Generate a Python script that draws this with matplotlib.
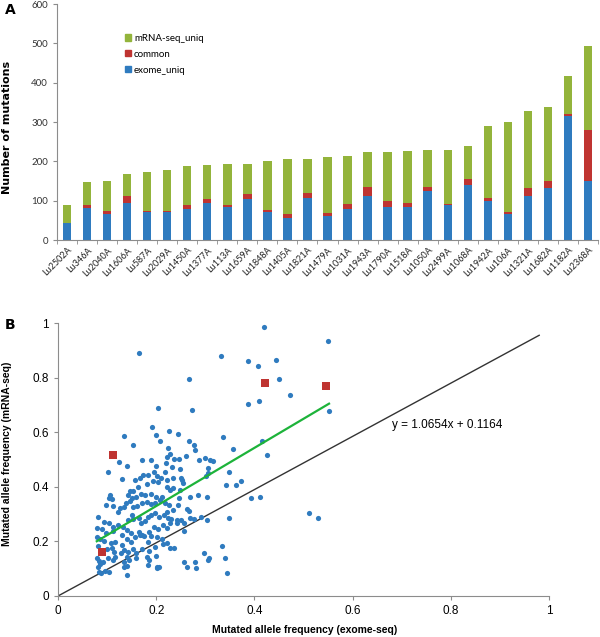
import matplotlib.pyplot as plt
import numpy as np
from matplotlib.patches import Patch

# panel A: stacked mutation counts per sample
samples = ["Lu2502A", "Lu346A", "Lu2040A", "Lu1606A", "Lu587A", "Lu2029A", "Lu1450A",
           "Lu1377A", "Lu113A", "Lu1659A", "Lu1848A", "Lu1405A", "Lu1821A", "Lu1479A",
           "Lu1031A", "Lu1943A", "Lu1790A", "Lu1518A", "Lu1050A", "Lu2499A", "Lu1068A",
           "Lu1942A", "Lu106A", "Lu1321A", "Lu1682A", "Lu1182A", "Lu2368A"]
exome_uniq = [43, 82, 67, 95, 71, 70, 78, 95, 84, 103, 70, 56, 107, 62, 78, 111, 84, 83,
              124, 89, 139, 99, 66, 112, 132, 315, 151]
common = [0, 8, 6, 16, 4, 5, 10, 8, 4, 13, 7, 11, 12, 6, 14, 23, 14, 12, 10, 3, 15, 8, 6,
          21, 19, 6, 128]
mrna_uniq = [47, 57, 78, 57, 97, 104, 99, 88, 105, 77, 123, 138, 88, 144, 122, 89, 126,
             131, 94, 138, 85, 183, 227, 194, 186, 95, 215]

# panel B: allele frequencies (exome-seq x, mRNA-seq y)
freq_exome = [
    0.164, 0.332, 0.420, 0.386, 0.408, 0.445, 0.450, 0.267, 0.473, 0.386, 0.410, 0.204,
    0.272, 0.191, 0.135, 0.199, 0.227, 0.244, 0.337, 0.153, 0.208, 0.267, 0.277, 0.279,
    0.225, 0.229, 0.260, 0.357, 0.415, 0.425, 0.552, 0.511, 0.530, 0.549,
    0.172, 0.190, 0.221, 0.236, 0.246, 0.287, 0.299, 0.310, 0.316,
    0.125, 0.101, 0.140, 0.200, 0.219, 0.233, 0.217, 0.248, 0.196, 0.183, 0.174, 0.167,
    0.202, 0.209, 0.234, 0.251, 0.306, 0.305, 0.348, 0.130, 0.157, 0.181, 0.193, 0.204,
    0.221, 0.146, 0.152, 0.143, 0.150, 0.159, 0.163, 0.170, 0.177, 0.190, 0.200, 0.212,
    0.223, 0.228, 0.234, 0.249, 0.252, 0.254, 0.247, 0.269, 0.286, 0.303, 0.301, 0.342,
    0.363, 0.373, 0.394, 0.412, 0.106, 0.104, 0.109, 0.098, 0.113, 0.126, 0.134, 0.139,
    0.147, 0.153, 0.160, 0.172, 0.181, 0.189, 0.198, 0.208, 0.218, 0.227, 0.235, 0.245,
    0.262, 0.266, 0.269, 0.276, 0.292, 0.304, 0.348, 0.123, 0.081, 0.094, 0.103, 0.111,
    0.122, 0.133, 0.142, 0.151, 0.153, 0.164, 0.170, 0.177, 0.184, 0.190, 0.198, 0.205,
    0.215, 0.223, 0.224, 0.231, 0.242, 0.251, 0.257, 0.079, 0.090, 0.098, 0.113, 0.130,
    0.140, 0.148, 0.164, 0.172, 0.185, 0.196, 0.204, 0.213, 0.223, 0.229, 0.242, 0.257,
    0.080, 0.086, 0.094, 0.107, 0.117, 0.131, 0.140, 0.149, 0.157, 0.167, 0.175, 0.184,
    0.189, 0.201, 0.212, 0.223, 0.081, 0.099, 0.109, 0.115, 0.128, 0.134, 0.143, 0.153,
    0.158, 0.172, 0.185, 0.198, 0.213, 0.228, 0.236, 0.080, 0.084, 0.086, 0.091, 0.102,
    0.111, 0.117, 0.134, 0.140, 0.140, 0.145, 0.158, 0.181, 0.185, 0.200, 0.202, 0.257,
    0.262, 0.281, 0.279, 0.298, 0.306, 0.308, 0.333, 0.340, 0.344, 0.081, 0.083, 0.088,
    0.096, 0.103, 0.140, 0.135, 0.183, 0.201, 0.206]
freq_mrna = [
    0.889, 0.880, 0.985, 0.860, 0.842, 0.863, 0.795, 0.795, 0.737, 0.702, 0.713, 0.690,
    0.680, 0.620, 0.587, 0.591, 0.604, 0.592, 0.584, 0.554, 0.567, 0.567, 0.553, 0.536,
    0.542, 0.521, 0.514, 0.540, 0.568, 0.518, 0.679, 0.305, 0.287, 0.933,
    0.498, 0.498, 0.508, 0.502, 0.502, 0.498, 0.507, 0.498, 0.496,
    0.492, 0.453, 0.476, 0.478, 0.488, 0.471, 0.456, 0.466, 0.455, 0.445, 0.443, 0.431,
    0.441, 0.434, 0.434, 0.433, 0.470, 0.449, 0.456, 0.427, 0.425, 0.411, 0.421, 0.416,
    0.425, 0.383, 0.383, 0.370, 0.358, 0.361, 0.400, 0.372, 0.369, 0.373, 0.364, 0.361,
    0.398, 0.389, 0.397, 0.389, 0.425, 0.414, 0.358, 0.361, 0.371, 0.364, 0.439, 0.406,
    0.408, 0.421, 0.358, 0.361, 0.371, 0.360, 0.354, 0.333, 0.329, 0.321, 0.327, 0.342,
    0.347, 0.327, 0.331, 0.339, 0.343, 0.337, 0.339, 0.351, 0.342, 0.333, 0.315, 0.333,
    0.317, 0.310, 0.284, 0.281, 0.288, 0.278, 0.284, 0.306, 0.288, 0.272, 0.266, 0.254,
    0.260, 0.254, 0.278, 0.298, 0.281, 0.284, 0.266, 0.275, 0.290, 0.298, 0.305, 0.288,
    0.296, 0.309, 0.287, 0.282, 0.278, 0.278, 0.266, 0.248, 0.246, 0.229, 0.239, 0.223,
    0.242, 0.232, 0.235, 0.222, 0.234, 0.254, 0.246, 0.259, 0.249, 0.266, 0.266, 0.239,
    0.217, 0.207, 0.202, 0.194, 0.199, 0.188, 0.207, 0.199, 0.215, 0.223, 0.220, 0.196,
    0.220, 0.217, 0.209, 0.193, 0.183, 0.172, 0.174, 0.160, 0.156, 0.168, 0.162, 0.172,
    0.156, 0.171, 0.166, 0.181, 0.190, 0.177, 0.174, 0.140, 0.129, 0.117, 0.126, 0.139,
    0.132, 0.144, 0.126, 0.144, 0.110, 0.132, 0.138, 0.144, 0.132, 0.148, 0.107, 0.126,
    0.105, 0.101, 0.126, 0.158, 0.132, 0.138, 0.184, 0.138, 0.085, 0.107, 0.089, 0.083,
    0.093, 0.088, 0.078, 0.105, 0.113, 0.104, 0.107]
common_exome = [0.111, 0.422, 0.545, 0.090]
common_mrna = [0.516, 0.779, 0.769, 0.160]
slope, intercept = 1.0654, 0.1164
fit_range = [0.079, 0.552]
diag_x = [0, 0.98]
diag_y = [0, 0.955]

blue, red, green = "#2f7bbf", "#bf3431", "#93b43b"
grey = "#8c8c8c"

fig = plt.figure(figsize=(6, 6.37), dpi=100)

# ---- panel A
axA = fig.add_axes([57 / 600, 1 - 240 / 637, 541 / 600, 236 / 637])
x = np.arange(len(samples))
exome_uniq = np.array(exome_uniq)
common = np.array(common)
w = 0.42
axA.bar(x, exome_uniq, w, color=blue)
axA.bar(x, common, w, bottom=exome_uniq, color=red)
axA.bar(x, mrna_uniq, w, bottom=exome_uniq + common, color=green)
axA.set_xlim(-0.5, len(samples) - 0.5)
axA.set_ylim(0, 600)
axA.set_yticks(range(0, 601, 100))
axA.set_xticks(x)
axA.set_xticklabels(samples, rotation=45, ha="right", rotation_mode="anchor",
                    fontsize=6.5, family="Lato", color="#222222")
axA.set_xticks(np.arange(-0.5, len(samples), 1), minor=True)
axA.tick_params(axis="x", which="major", length=0, pad=4)
axA.tick_params(axis="x", which="minor", length=3, color=grey)
axA.tick_params(axis="y", length=3, color=grey, labelsize=7, labelcolor="#333333")
for lab in axA.get_yticklabels():
    lab.set_family("Lato")
for s in ["top", "right"]:
    axA.spines[s].set_visible(False)
for s in ["left", "bottom"]:
    axA.spines[s].set_color(grey)
axA.set_ylabel("Number of mutations", fontsize=8, fontweight="bold", family="DejaVu Sans")
axA.yaxis.set_label_coords(-0.083, 0.475)
handles = [Patch(color=green, label="mRNA-seq_uniq"),
           Patch(color=red, label="common"),
           Patch(color=blue, label="exome_uniq")]
axA.legend(handles=handles, loc="upper left", bbox_to_anchor=(0.11, 0.91), frameon=False,
           handlelength=0.6, handleheight=0.6, handletextpad=0.3, labelspacing=0.7,
           prop={"family": "Lato", "size": 7})
fig.text(0.008, 1 - 10 / 637, "A", fontsize=10, fontweight="bold", va="center")

# ---- panel B
axB = fig.add_axes([58 / 600, 1 - 596 / 637, 491 / 600, 273 / 637])
axB.plot(diag_x, diag_y, color="#333333", lw=1)
axB.scatter(freq_exome, freq_mrna, s=14, color=blue, zorder=3, linewidths=0)
axB.scatter(common_exome, common_mrna, s=30, marker="s", color=red, zorder=4, linewidths=0)
fx = np.array(fit_range)
axB.plot(fx, slope * fx + intercept, color="#1db33a", lw=1.6, zorder=5)
axB.text(0.68, 0.615, f"y = {slope}x + {intercept}", fontsize=8.5, family="Liberation Sans")
axB.set_xlim(0, 1)
axB.set_ylim(0, 1)
axB.set_xticks(np.arange(0, 1.01, 0.2))
axB.set_yticks(np.arange(0, 1.01, 0.2))
axB.set_xticklabels(["0", "0.2", "0.4", "0.6", "0.8", "1"])
axB.set_yticklabels(["0", "0.2", "0.4", "0.6", "0.8", "1"])
axB.tick_params(length=3, color=grey, labelsize=8.5)
for lab in axB.get_xticklabels() + axB.get_yticklabels():
    lab.set_family("Liberation Sans")
for s in ["top", "right"]:
    axB.spines[s].set_visible(False)
for s in ["left", "bottom"]:
    axB.spines[s].set_color(grey)
axB.set_xlabel("Mutated allele frequency (exome-seq)", fontsize=7.5, fontweight="bold",
               family="Liberation Sans")
axB.set_ylabel("Mutated allele frequency (mRNA-seq)", fontsize=7.5, fontweight="bold",
               family="Liberation Sans")
axB.xaxis.set_label_coords(0.503, -0.108)
axB.yaxis.set_label_coords(-0.093, 0.52)
fig.text(0.008, 1 - 325 / 637, "B", fontsize=10, fontweight="bold", va="center")

plt.savefig("out.png", dpi=100)
